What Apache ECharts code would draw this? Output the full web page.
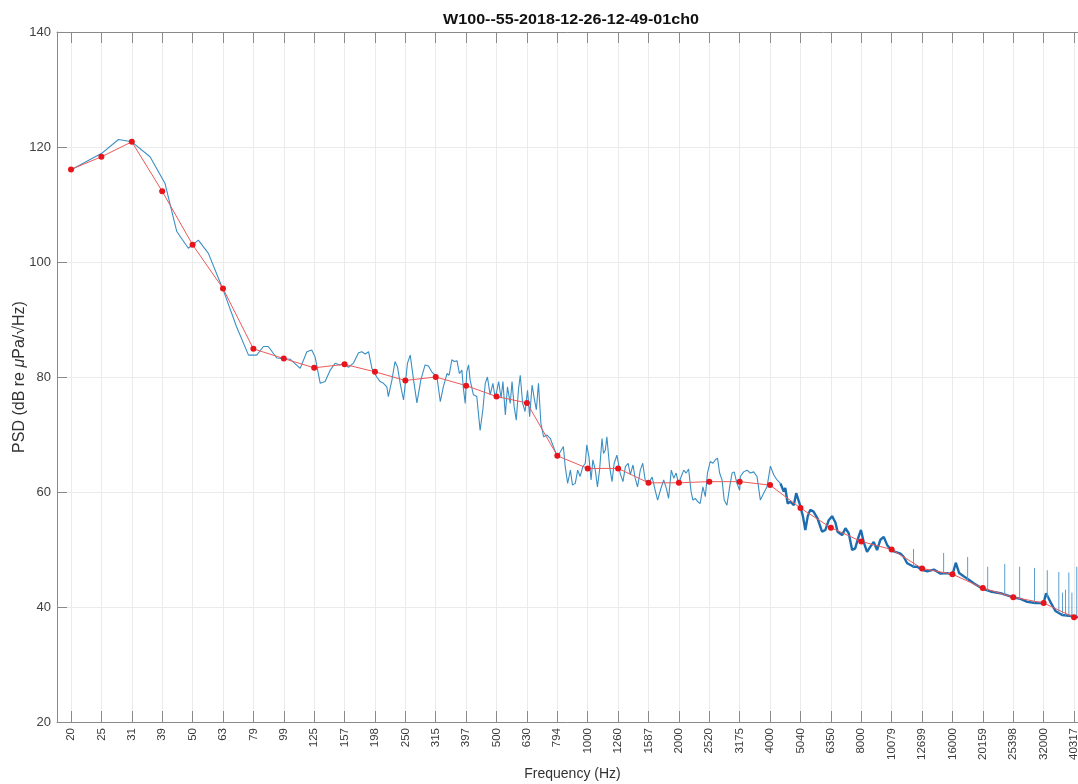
<!DOCTYPE html>
<html>
<head>
<meta charset="utf-8">
<script src="https://cdn.jsdelivr.net/npm/echarts@6/dist/echarts.min.js"></script>
<style>
html,body{margin:0;padding:0;background:#fff;}
#chart{width:1078px;height:784px;}
</style>
</head>
<body>
<div id="chart"></div>
<script>
// Third-octave band labels (Hz) and band levels (red markers), dB
const bandLabels = ['20','25','31','39','50','63','79','99','125','157','198','250','315','397','500','630','794','1000','1260','1587','2000','2520','3175','4000','5040','6350','8000','10079','12699','16000','20159','25398','32000','40317'];
const bandLevels = [116.1,118.3,120.9,112.3,103.0,95.4,84.9,83.2,81.6,82.2,80.9,79.4,80.0,78.5,76.6,75.5,66.3,64.1,64.1,61.6,61.6,61.8,61.8,61.2,57.2,53.8,51.4,50.0,46.7,45.7,43.3,41.7,40.7,38.2];
const yTicks = [20,40,60,80,100,120,140];

// PSD curve: [position in band steps from 20 Hz, dB]
const psdLow = [
[0.02,116.1],[1.01,118.9],[1.56,121.3],[2.00,120.9],[2.60,118.3],[3.09,113.7],[3.48,105.3],[3.86,102.4],[4.19,103.8],[4.52,101.5],
[5.01,95.1],[5.45,88.7],[5.84,83.8],[6.11,83.8],[6.33,85.3],[6.49,85.3],[6.77,83.3],[7.21,83.1],[7.54,81.5],[7.76,84.4],
[7.92,84.7],[8.03,83.5],[8.20,78.9],[8.36,79.2],[8.53,81.2],[8.69,82.4],[8.85,82.1],[8.96,82.4],[9.13,81.7],[9.29,82.4],
[9.46,84.2],[9.57,84.4],[9.68,84.0],[9.79,84.4],[9.90,81.5],[10.06,80.0],[10.17,79.2],[10.28,78.9],[10.39,78.3],[10.44,76.6],
[10.56,79.5],[10.66,82.7],[10.74,81.8],[10.83,78.9],[10.94,76.0],[11.07,82.4],[11.16,83.8],[11.27,79.5],[11.38,75.5],[11.51,79.5],
[11.65,82.1],[11.76,81.9],[11.87,80.9],[12.04,80.0],[12.15,75.7],[12.25,78.3],[12.37,80.6],[12.44,80.3],[12.53,83.0],[12.61,82.7],
[12.70,82.8],[12.78,80.6],[12.86,81.2],[12.91,78.0],[12.97,75.4],[13.02,80.9],[13.08,82.1],[13.13,79.5],[13.24,76.9],[13.35,76.6],
[13.46,70.7],[13.55,74.3],[13.63,78.9],[13.70,80.0],[13.79,76.9],[13.88,78.9],[13.96,76.3],[14.07,79.2],[14.15,76.3],[14.21,79.2],
[14.29,73.4],[14.36,78.3],[14.45,75.4],[14.51,79.2],[14.58,74.8],[14.65,72.5],[14.72,77.7],[14.78,80.3],[14.86,75.4],[14.94,74.0],
[15.02,77.7],[15.09,73.1],[15.17,78.6],[15.24,76.3],[15.31,74.3],[15.38,78.9],[15.46,71.9],[15.55,69.6],[15.66,69.9],[15.77,69.3],
[15.90,67.5],[16.00,66.2],[16.10,67.0],[16.20,67.9],[16.26,64.4],[16.34,61.5],[16.43,63.8],[16.50,61.2],[16.59,61.5],[16.67,63.8],
[16.75,62.7],[16.84,64.4],[16.92,65.0],[16.97,68.2],[17.04,66.1],[17.11,62.1],[17.17,65.6],[17.25,63.8],[17.32,60.9],[17.39,63.8],
[17.47,69.3],[17.52,66.7],[17.58,67.3],[17.63,69.6],[17.72,64.4],[17.80,61.8],[17.87,65.0],[17.96,66.4],[18.07,63.2],[18.16,61.8],
[18.24,64.4],[18.33,65.0],[18.40,63.0],[18.49,64.7],[18.56,62.4],[18.64,60.9],[18.73,63.8],[18.81,65.0],[18.89,62.1],[19.00,61.5],
[19.12,62.6],[19.22,60.3],[19.30,58.6],[19.39,60.3],[19.50,62.1],[19.59,60.6],[19.66,58.9],[19.75,63.8],[19.83,62.4],[19.91,63.3],
[19.99,61.4],[20.07,62.6],[20.16,63.8],[20.24,63.3],[20.32,64.0],[20.40,60.1],[20.46,58.6],[20.54,58.9],[20.62,58.3],[20.70,58.0],
[20.79,60.9],[20.87,59.2],[20.94,63.3],[21.03,65.3],[21.12,65.0],[21.20,65.6],[21.27,65.9],[21.34,63.3],[21.42,62.1],[21.49,58.6],
[21.58,57.7],[21.67,60.9],[21.75,63.3],[21.82,63.5],[21.91,61.5],[22.00,60.3],[22.02,62.7],[22.13,63.5],[22.24,63.8],[22.35,63.3],
[22.46,63.5],[22.57,62.7],[22.68,58.6],[22.79,59.8],[22.90,60.9],[23.01,64.5],[23.12,63.0],[23.23,62.1],[23.34,61.5]
];
const psdHigh = [
[23.34,61.5],[23.45,60.1],[23.50,60.7],[23.58,58.0],[23.67,58.3],[23.78,57.7],[23.86,59.8],[23.97,58.0],[24.08,55.8],[24.16,53.4],
[24.24,55.8],[24.32,56.9],[24.43,56.6],[24.56,55.4],[24.71,53.1],[24.82,53.4],[24.93,55.1],[25.04,55.8],[25.15,54.7],[25.22,53.1],
[25.37,52.5],[25.48,53.7],[25.59,52.8],[25.70,49.9],[25.80,50.2],[25.91,52.2],[25.99,53.4],[26.08,51.3],[26.19,49.6],[26.30,50.5],
[26.41,51.3],[26.52,49.9],[26.63,51.7],[26.74,52.2],[26.85,50.8],[26.98,49.9],[27.12,49.6],[27.29,49.3],[27.40,48.7],[27.51,47.6],
[27.62,47.3],[27.72,47.0],[27.84,47.0],[27.98,46.5],[28.17,46.2],[28.39,46.5],[28.61,45.8],[28.84,45.9],[29.00,45.6],[29.11,47.7],
[29.22,45.9],[29.38,45.3],[29.55,44.7],[29.71,44.1],[29.98,43.2],[30.25,42.7],[30.58,42.4],[30.98,41.7],[31.24,41.4],[31.46,40.9],
[31.73,40.7],[32.00,40.7],[32.08,42.4],[32.22,40.9],[32.39,39.3],[32.61,38.6],[32.99,38.4],[33.15,38.2],[33.46,37.9]
];
// narrow tonal spikes: [position, base dB, peak dB]
const psdSpikes = [
[27.72,47.0,50.1],[28.71,45.8,49.4],[29.50,44.8,48.7],[30.16,42.8,47.0],[30.72,42.2,47.5],[31.21,41.4,47.0],[31.70,40.7,46.8],
[32.12,41.5,46.4],[32.50,39.0,46.1],[32.62,38.6,42.5],[32.72,38.5,43.0],[32.83,38.5,46.0],[32.93,38.4,42.5],[33.09,38.2,47.0]
];

const tickPos = bandLabels.map((_, i) => i);
const spikeData = [];
psdSpikes.forEach(s => { spikeData.push([s[0], s[1]], [s[0], s[2]], [s[0], '-']); });

const font = '"Liberation Sans", Arial, Helvetica, sans-serif';
const axisGray = '#8a8a8a';
const chart = echarts.init(document.getElementById('chart'), null, {renderer: 'canvas'});
chart.setOption({
  animation: false,
  backgroundColor: '#ffffff',
  graphic: [{
    type: 'text', x: 571, y: 20, scaleX: 1.15, scaleY: 1,
    style: {text: 'W100--55-2018-12-26-12-49-01ch0', fontSize: 14, fontWeight: 'bold', fontFamily: font, fill: '#111',
            align: 'center', verticalAlign: 'middle'}
  }],
  grid: {left: 57, top: 32, width: 1031, height: 690, containLabel: false, outerBoundsMode: 'none'},
  xAxis: [{
    type: 'value', min: -0.461, max: 33.46,
    name: 'Frequency (Hz)', nameLocation: 'middle', nameGap: 45, nameMoveOverlap: false,
    nameTextStyle: {fontFamily: font, fontSize: 14, color: '#333'},
    axisLine: {show: true, onZero: false, lineStyle: {color: axisGray, width: 1}},
    axisTick: {show: true, inside: true, length: 11, customValues: tickPos, lineStyle: {color: axisGray}},
    axisLabel: {show: true, rotate: 90, margin: 6, customValues: tickPos, fontFamily: font, fontSize: 11.5, color: '#3a3a3a',
                formatter: v => bandLabels[Math.round(v)]},
    splitLine: {show: true, lineStyle: {color: '#ebebeb', width: 1}}
  }, {
    type: 'value', position: 'top', min: -0.461, max: 33.46,
    axisLine: {show: true, onZero: false, lineStyle: {color: axisGray, width: 1}},
    axisTick: {show: true, inside: true, length: 11, customValues: tickPos, lineStyle: {color: axisGray}},
    axisLabel: {show: false},
    splitLine: {show: false}
  }],
  yAxis: [{
    type: 'value', min: 20, max: 140, interval: 20,
    name: '{n|PSD (dB re }{m|μ}{n|Pa/√Hz)}', nameLocation: 'middle', nameGap: 29, nameRotate: 90, nameMoveOverlap: false,
    nameTextStyle: {fontFamily: font, fontSize: 16, color: '#333',
      rich: {n: {fontFamily: font, fontSize: 16, color: '#333'}, m: {fontFamily: font, fontSize: 16, color: '#333', fontStyle: 'italic'}}},
    axisLine: {show: true, onZero: false, lineStyle: {color: axisGray, width: 1}},
    axisTick: {show: true, inside: true, length: 10, lineStyle: {color: axisGray}},
    axisLabel: {margin: 6, fontFamily: font, fontSize: 13, color: '#404040',
                formatter: v => (yTicks.indexOf(v) >= 0 ? String(v) : '')},
    splitLine: {show: true, lineStyle: {color: '#ebebeb', width: 1}}
  }],
  series: [{
    name: 'PSD', type: 'line', data: psdLow, showSymbol: false, symbol: 'none',
    lineStyle: {color: '#3a8fc4', width: 1.1}, z: 2, silent: true
  }, {
    name: 'PSD hf', type: 'line', data: psdHigh, showSymbol: false, symbol: 'none',
    lineStyle: {color: '#1c6cb0', width: 2.4}, z: 2, silent: true
  }, {
    name: 'PSD tones', type: 'line', data: spikeData, showSymbol: false, symbol: 'none', connectNulls: false,
    lineStyle: {color: '#5a9fcf', width: 1}, z: 2, silent: true
  }, {
    name: 'Band levels', type: 'line', data: bandLevels.map((v, i) => [i, v]),
    symbol: 'circle', symbolSize: 6, showSymbol: true,
    itemStyle: {color: '#e8141c'}, lineStyle: {color: '#ec5a5a', width: 1}, z: 5, silent: true
  }]
});
</script>
</body>
</html>
